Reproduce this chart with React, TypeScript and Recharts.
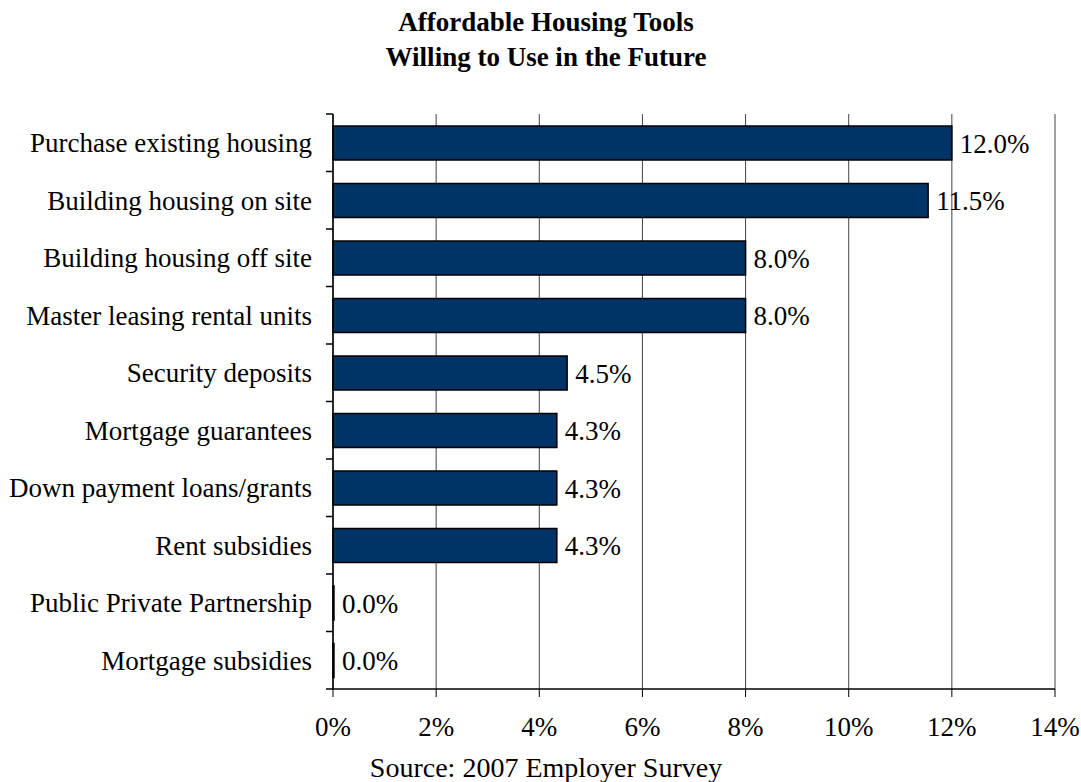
import { BarChart, Bar, XAxis, YAxis, CartesianGrid, LabelList } from 'recharts';

const categories = [
  'Purchase existing housing',
  'Building housing on site',
  'Building housing off site',
  'Master leasing rental units',
  'Security deposits',
  'Mortgage guarantees',
  'Down payment loans/grants',
  'Rent subsidies',
  'Public Private Partnership',
  'Mortgage subsidies',
];
const shares = [12.0, 11.54, 8.0, 8.0, 4.54, 4.34, 4.34, 4.34, 0, 0];
const xTicks = [0, 2, 4, 6, 8, 10, 12, 14];

const data = categories.map((name, i) => ({ name, share: shares[i] }));

const FONT = '"Liberation Serif", "Times New Roman", serif';

const CategoryTick = (props: any) => {
  const { x, y, payload, index } = props;
  const half = payload?.offset ?? 28.75;
  const axisX = x + 21;
  return (
    <g>
      <text x={x} y={y} dy="0.355em" textAnchor="end" fontSize={27} fontFamily={FONT} fill="#000">
        {payload.value}
      </text>
      <line x1={axisX - 7} x2={axisX} y1={y - half} y2={y - half} stroke="#000" strokeWidth={1.5} />
      {index === categories.length - 1 && (
        <line x1={axisX - 7} x2={axisX} y1={y + half} y2={y + half} stroke="#000" strokeWidth={1.5} />
      )}
    </g>
  );
};

// value label drawn to the right of each bar, also for the zero bars
const ValueLabel = (props: any) => {
  const { x, y, width, height, value } = props;
  return (
    <text
      x={Number(x) + Number(width) + 8}
      y={Number(y) + Number(height) / 2}
      dy="0.355em"
      textAnchor="start"
      fontSize={27}
      fontFamily={FONT}
      fill="#000"
    >
      {`${Number(value).toFixed(1)}%`}
    </text>
  );
};

const SourceLabel = () => (
  <text x={546} y={777} textAnchor="middle" fontSize={28} fontFamily={FONT} fill="#000">
    Source: 2007 Employer Survey
  </text>
);

const App = () => {
  return (
    <div
      style={{
        position: 'absolute',
        top: 0,
        left: 0,
        width: 1081,
        height: 782,
        background: 'white',
        fontFamily: FONT,
      }}
    >
      <div
        style={{
          position: 'absolute',
          top: 5,
          left: 296,
          width: 500,
          textAlign: 'center',
          fontWeight: 'bold',
          fontSize: 27,
          lineHeight: '35px',
        }}
      >
        Affordable Housing Tools
        <br />
        Willing to Use in the Future
      </div>
      <BarChart
        width={1081}
        height={782}
        data={data}
        layout="vertical"
        margin={{ top: 114, right: 26, bottom: 0, left: 0 }}
      >
        <CartesianGrid horizontal={false} stroke="#444" />
        <XAxis
          type="number"
          domain={[0, 14]}
          ticks={xTicks}
          tickFormatter={(v: number) => `${v}%`}
          height={93}
          tickSize={8}
          tickMargin={20}
          stroke="#000"
          axisLine={{ stroke: '#000', strokeWidth: 1.5 }}
          tickLine={{ stroke: '#000' }}
          tick={{ fill: '#000', fontSize: 27, fontFamily: FONT }}
          interval={0}
          label={<SourceLabel />}
        />
        <XAxis
          xAxisId="top"
          orientation="top"
          type="number"
          domain={[0, 14]}
          height={0}
          tick={false}
          tickLine={false}
          axisLine={{ stroke: '#888', strokeWidth: 2 }}
        />
        <YAxis
          type="category"
          dataKey="name"
          width={333}
          tickSize={7}
          tickMargin={14}
          tickLine={false}
          axisLine={{ stroke: '#000', strokeWidth: 1.5 }}
          tick={<CategoryTick />}
          interval={0}
        />
        <Bar
          dataKey="share"
          fill="#003366"
          stroke="#000"
          strokeWidth={1.5}
          barSize={34}
          minPointSize={1}
          isAnimationActive={false}
        >
          <LabelList dataKey="share" content={<ValueLabel />} />
        </Bar>
      </BarChart>
    </div>
  );
};

export default App;
